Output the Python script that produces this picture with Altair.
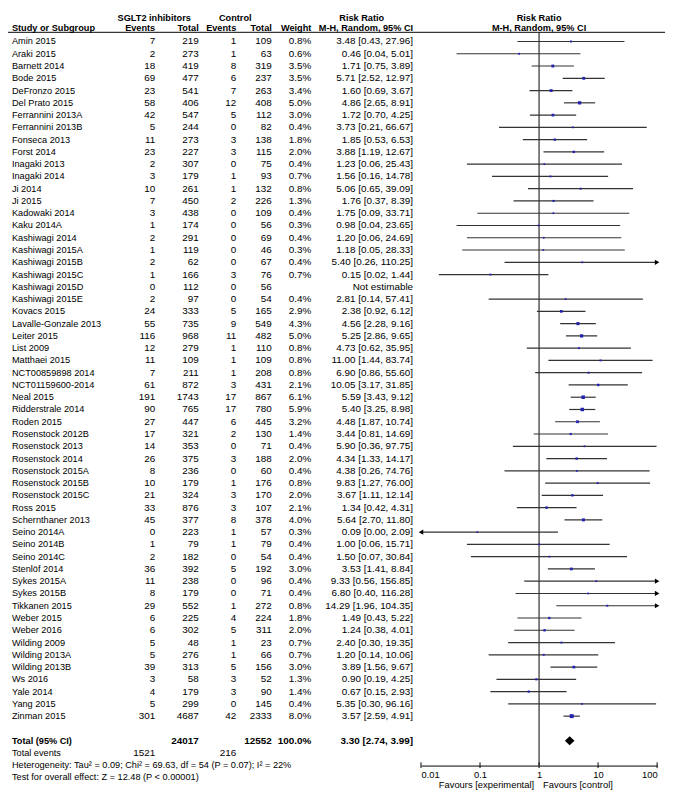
import altair as alt
import pandas as pd

FONT = "Liberation Sans"
BLUE = "#2323b0"

studies = ["Amin 2015", "Araki 2015", "Barnett 2014", "Bode 2015", "DeFronzo 2015", "Del Prato 2015",
           "Ferrannini 2013A", "Ferrannini 2013B", "Fonseca 2013", "Forst 2014", "Inagaki 2013",
           "Inagaki 2014", "Ji 2014", "Ji 2015", "Kadowaki 2014", "Kaku 2014A", "Kashiwagi 2014",
           "Kashiwagi 2015A", "Kashiwagi 2015B", "Kashiwagi 2015C", "Kashiwagi 2015D", "Kashiwagi 2015E",
           "Kovacs 2015", "Lavalle-Gonzale 2013", "Leiter 2015", "List 2009", "Matthaei 2015",
           "NCT00859898 2014", "NCT01159600-2014", "Neal 2015", "Ridderstrale 2014", "Roden 2015",
           "Rosenstock 2012B", "Rosenstock 2013", "Rosenstock 2014", "Rosenstock 2015A",
           "Rosenstock 2015B", "Rosenstock 2015C", "Ross 2015", "Schernthaner 2013", "Seino 2014A",
           "Seino 2014B", "Seino 2014C", "Stenlöf 2014", "Sykes 2015A", "Sykes 2015B", "Tikkanen 2015",
           "Weber 2015", "Weber 2016", "Wilding 2009", "Wilding 2013A", "Wilding 2013B", "Ws 2016",
           "Yale 2014", "Yang 2015", "Zinman 2015"]
sglt_events = [7, 2, 18, 69, 23, 58, 42, 5, 11, 23, 2, 3, 10, 7, 3, 1, 2, 1, 2, 1, 0, 2, 24, 55, 116,
               12, 11, 7, 61, 191, 90, 27, 17, 14, 26, 8, 10, 21, 33, 45, 0, 1, 2, 36, 11, 8, 29, 6, 6,
               5, 5, 39, 3, 4, 5, 301]
sglt_total = [219, 273, 419, 477, 541, 406, 547, 244, 273, 227, 307, 179, 261, 450, 438, 174, 291, 119,
              62, 166, 112, 97, 333, 735, 968, 279, 109, 211, 872, 1743, 765, 447, 321, 353, 375, 236,
              179, 324, 876, 377, 223, 79, 182, 392, 238, 179, 552, 225, 302, 48, 276, 313, 58, 179,
              299, 4687]
ctrl_events = [1, 1, 8, 6, 7, 12, 5, 0, 3, 3, 0, 1, 1, 2, 0, 0, 0, 0, 0, 3, 0, 0, 5, 9, 11, 1, 1, 1, 3,
               17, 17, 6, 2, 0, 3, 0, 1, 3, 3, 8, 1, 1, 0, 5, 0, 0, 1, 4, 5, 1, 1, 5, 3, 3, 0, 42]
ctrl_total = [109, 63, 319, 237, 263, 408, 112, 82, 138, 115, 75, 93, 132, 226, 109, 56, 69, 46, 67, 76,
              56, 54, 165, 549, 482, 110, 109, 208, 431, 867, 780, 445, 130, 71, 188, 60, 176, 170, 107,
              378, 57, 79, 54, 192, 96, 71, 272, 224, 311, 23, 66, 156, 52, 90, 145, 2333]
weights = [0.8, 0.6, 3.5, 3.5, 3.4, 5.0, 3.0, 0.4, 1.8, 2.0, 0.4, 0.7, 0.8, 1.3, 0.4, 0.3, 0.4, 0.3,
           0.4, 0.7, None, 0.4, 2.9, 4.3, 5.0, 0.8, 0.8, 0.8, 2.1, 6.1, 5.9, 3.2, 1.4, 0.4, 2.0, 0.4,
           0.8, 2.0, 2.1, 4.0, 0.3, 0.4, 0.4, 3.0, 0.4, 0.4, 0.8, 1.8, 2.0, 0.7, 0.7, 3.0, 1.3, 1.4,
           0.4, 8.0]
risk_ratio = [3.48, 0.46, 1.71, 5.71, 1.60, 4.86, 1.72, 3.73, 1.85, 3.88, 1.23, 1.56, 5.06, 1.76, 1.75,
              0.98, 1.20, 1.18, 5.40, 0.15, None, 2.81, 2.38, 4.56, 5.25, 4.73, 11.00, 6.90, 10.05,
              5.59, 5.40, 4.48, 3.44, 5.90, 4.34, 4.38, 9.83, 3.67, 1.34, 5.64, 0.09, 1.00, 1.50, 3.53,
              9.33, 6.80, 14.29, 1.49, 1.24, 2.40, 1.20, 3.89, 0.90, 0.67, 5.35, 3.57]
ci_low = [0.43, 0.04, 0.75, 2.52, 0.69, 2.65, 0.70, 0.21, 0.53, 1.19, 0.06, 0.16, 0.65, 0.37, 0.09,
          0.04, 0.06, 0.05, 0.26, 0.02, None, 0.14, 0.92, 2.28, 2.86, 0.62, 1.44, 0.86, 3.17, 3.43,
          3.25, 1.87, 0.81, 0.36, 1.33, 0.26, 1.27, 1.11, 0.42, 2.70, 0.00, 0.06, 0.07, 1.41, 0.56,
          0.40, 1.96, 0.43, 0.38, 0.30, 0.14, 1.56, 0.19, 0.15, 0.30, 2.59]
ci_high = [27.96, 5.01, 3.89, 12.97, 3.67, 8.91, 4.25, 66.67, 6.53, 12.67, 25.43, 14.78, 39.09, 8.39,
           33.71, 23.65, 24.69, 28.33, 110.25, 1.44, None, 57.41, 6.12, 9.16, 9.65, 35.95, 83.74,
           55.60, 31.85, 9.12, 8.98, 10.74, 14.69, 97.75, 14.17, 74.76, 76.00, 12.14, 4.31, 11.80,
           2.09, 15.71, 30.84, 8.84, 156.85, 116.28, 104.35, 5.22, 4.01, 19.35, 10.06, 9.67, 4.25,
           2.93, 96.16, 4.91]

total_sglt, total_ctrl, total_weight = 24017, 12552, 100.0
total_rr, total_lo, total_hi = 3.30, 2.74, 3.99
events_sglt, events_ctrl = 1521, 216
heterogeneity = "Heterogeneity: Tau\u00b2 = 0.09; Chi\u00b2 = 69.63, df = 54 (P = 0.07); I\u00b2 = 22%"
overall = "Test for overall effect: Z = 12.48 (P < 0.00001)"
axis_ticks = [0.01, 0.1, 1, 10, 100]

n = len(studies)
R_TOTAL, R_EVENTS, R_HET, R_TEST = n + 1, n + 2, n + 3, n + 4
R_H1, R_H2, R_LINE = -1.95, -1.1, -0.75
R_AXIS = R_HET

rows = pd.DataFrame({"name": studies, "rr": risk_ratio, "lo": ci_low, "hi": ci_high,
                     "weight": weights, "r": list(range(n))})

def ci_text(a, b, c):
    return "Not estimable" if a is None else f"{a:.2f} [{b:.2f}, {c:.2f}]"

cells = []
for i in range(n):
    cells.append(dict(text=studies[i], r=i, slot=0, style="name"))
    for k, v in ((1, sglt_events[i]), (2, sglt_total[i]), (3, ctrl_events[i]), (4, ctrl_total[i])):
        cells.append(dict(text=str(v), r=i, slot=k, style="num"))
    cells.append(dict(text="" if weights[i] is None else f"{weights[i]:.1f}%", r=i, slot=5, style="num"))
    cells.append(dict(text=ci_text(risk_ratio[i], ci_low[i], ci_high[i]), r=i, slot=6, style="num"))
cells += [
    dict(text="Total (95% CI)", r=R_TOTAL, slot=0, style="namebold"),
    dict(text=str(total_sglt), r=R_TOTAL, slot=2, style="numbold"),
    dict(text=str(total_ctrl), r=R_TOTAL, slot=4, style="numbold"),
    dict(text=f"{total_weight:.1f}%", r=R_TOTAL, slot=5, style="numbold"),
    dict(text=ci_text(total_rr, total_lo, total_hi), r=R_TOTAL, slot=6, style="numbold"),
    dict(text="Total events", r=R_EVENTS, slot=0, style="name"),
    dict(text=str(events_sglt), r=R_EVENTS, slot=1, style="num"),
    dict(text=str(events_ctrl), r=R_EVENTS, slot=3, style="num"),
    dict(text=heterogeneity, r=R_HET, slot=0, style="name"),
    dict(text=overall, r=R_TEST, slot=0, style="name"),
    dict(text="SGLT2 inhibitors", r=R_H1, slot=7, style="head1"),
    dict(text="Control", r=R_H1, slot=8, style="head1"),
    dict(text="Risk Ratio", r=R_H1, slot=9, style="head1"),
    dict(text="Study or Subgroup", r=R_H2, slot=0, style="namebold"),
]
for k, t in enumerate(["Events", "Total", "Events", "Total", "Weight", "M-H, Random, 95% CI"], start=1):
    cells.append(dict(text=t, r=R_H2, slot=k, style="head2"))
cells = pd.DataFrame(cells)

# layout scales
tscale = alt.Scale(type="linear", domain=[-1, 0, 1, 2, 3, 4, 5, 6, 7, 8, 9, 10],
                   range=[0, 4, 149, 193, 231, 267, 307, 410, 148, 230, 358, 665],
                   nice=False, zero=False)
fscale = alt.Scale(type="log", domain=[0.01, 100], range=[418, 657], nice=False)
yscale = alt.Scale(domain=[-2.105, 59.03], reverse=True, nice=False, zero=False)
Y = lambda f: alt.Y(f, scale=yscale, axis=None)

def text_layer(style, align, size, bold):
    return alt.Chart(cells[cells["style"] == style]).mark_text(
        align=align, baseline="middle", font=FONT, fontSize=size,
        fontWeight="bold" if bold else "normal", color="black"
    ).encode(x=alt.X("slot:Q", scale=tscale, axis=None), y=Y("r:Q"), text="text:N")

layers = [
    text_layer("name", "left", 9.3, False),
    text_layer("namebold", "left", 9.3, True),
    text_layer("num", "right", 10, False),
    text_layer("numbold", "right", 10, True),
    text_layer("head2", "right", 9.3, True),
    text_layer("head1", "center", 9.3, True),
]

dummy = pd.DataFrame({"k": [0]})
header_rule = alt.Chart(dummy).mark_rule(color="black", strokeWidth=1).encode(
    x=alt.XDatum(-1, type="quantitative", scale=tscale, axis=None),
    x2=alt.X2Datum(10),
    y=alt.YDatum(R_LINE, type="quantitative", scale=yscale, axis=None),
)
layers.append(header_rule)

null_line = alt.Chart(pd.DataFrame({"null_effect": [1]})).mark_rule(color="black", strokeWidth=1).encode(
    x=alt.X("null_effect:Q", scale=fscale, axis=None),
    y=alt.YDatum(R_LINE, type="quantitative", scale=yscale, axis=None),
    y2=alt.Y2Datum(R_AXIS),
)
layers.append(null_line)

base = alt.Chart(rows).transform_filter("isValid(datum.rr)").transform_calculate(
    lo_c="max(datum.lo, 0.01)", hi_c="min(datum.hi, 100)")
ci_lines = base.mark_rule(color="#333333", strokeWidth=1.2).encode(
    x=alt.X("lo_c:Q", scale=fscale, axis=None), x2="hi_c:Q", y=Y("r:Q"))
squares = base.mark_square(color=BLUE, filled=True, opacity=1).encode(
    x=alt.X("rr:Q", scale=fscale, axis=None), y=Y("r:Q"),
    size=alt.Size("weight:Q", scale=alt.Scale(domain=[0.3, 8], range=[3, 16], zero=False), legend=None))
arrow_r = base.transform_filter("datum.hi > 100").mark_point(
    shape="triangle-right", filled=True, color="black", opacity=1, size=28, dx=-2.5).encode(
    x=alt.X("hi_c:Q", scale=fscale, axis=None), y=Y("r:Q"))
arrow_l = base.transform_filter("datum.lo < 0.01").mark_point(
    shape="triangle-left", filled=True, color="black", opacity=1, size=28, dx=2.5).encode(
    x=alt.X("lo_c:Q", scale=fscale, axis=None), y=Y("r:Q"))
layers += [ci_lines, squares, arrow_r, arrow_l]

diamond_df = pd.DataFrame({"x": [total_lo, total_rr, total_hi], "half": [0, 1, 0]})
diamond = alt.Chart(diamond_df).transform_calculate(
    y=f"{R_TOTAL} - 0.37 * datum.half", y2=f"{R_TOTAL} + 0.37 * datum.half"
).mark_area(color="black", opacity=1, interpolate="linear").encode(
    x=alt.X("x:Q", scale=fscale, axis=None), y=Y("y:Q"), y2="y2:Q")
layers.append(diamond)

ticks = alt.Chart(pd.DataFrame({"v": axis_ticks})).mark_rule(color="black", strokeWidth=1).encode(
    x=alt.X("v:Q", scale=fscale, axis=alt.Axis(
        values=axis_ticks, format="~g", labelFlush=True, ticks=False, tickSize=0,
        domain=True, domainColor="black", domainWidth=1, grid=False,
        labelFont=FONT, labelFontSize=9.5, labelColor="black", labelPadding=4, title=None)),
    y=alt.YDatum(R_AXIS - 0.23, type="quantitative", scale=yscale, axis=None),
    y2=alt.Y2Datum(R_AXIS + 0.23),
)
layers.append(ticks)

fhead = pd.DataFrame({"text": ["Risk Ratio", "M-H, Random, 95% CI"], "r": [R_H1, R_H2], "at": [1, 1]})
forest_head = alt.Chart(fhead).mark_text(
    align="center", baseline="middle", font=FONT, fontSize=9.3, fontWeight="bold", color="black"
).encode(x=alt.X("at:Q", scale=fscale, axis=None), y=Y("r:Q"), text="text:N")
layers.append(forest_head)

R_FAV = R_AXIS + 1.6
fav_l = alt.Chart(pd.DataFrame({"text": ["Favours [experimental]"], "at": [1], "r": [R_FAV]})).mark_text(
    align="right", baseline="middle", font=FONT, fontSize=9.5, color="black", dx=-5
).encode(x=alt.X("at:Q", scale=fscale, axis=None), y=Y("r:Q"), text="text:N")
fav_r = alt.Chart(pd.DataFrame({"text": ["Favours [control]"], "at": [1], "r": [R_FAV]})).mark_text(
    align="left", baseline="middle", font=FONT, fontSize=9.5, color="black", dx=4
).encode(x=alt.X("at:Q", scale=fscale, axis=None), y=Y("r:Q"), text="text:N")
layers += [fav_l, fav_r]

chart = alt.layer(*layers).resolve_scale(x="independent").properties(
    width=667, height=759,
    autosize=alt.AutoSizeParams(type="none"),
    padding={"left": 0, "top": 3, "right": 0, "bottom": 24},
    background="white",
).configure_view(stroke=None)

chart.save("out.html", embed_options={"renderer": "svg", "actions": False})
